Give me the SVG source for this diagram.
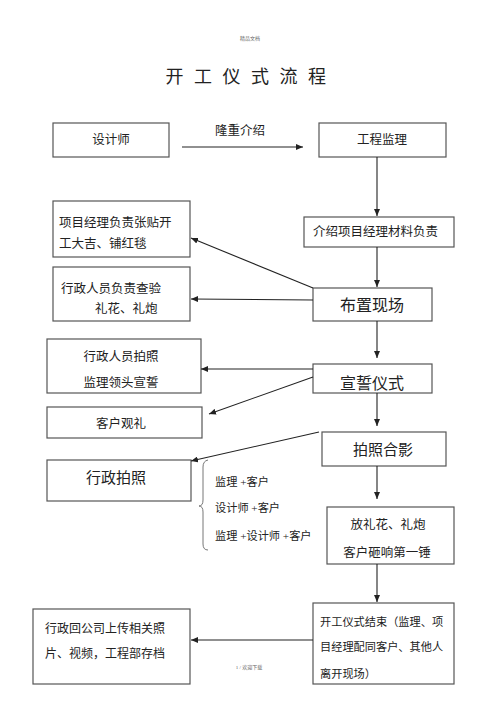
<svg xmlns="http://www.w3.org/2000/svg" width="500" height="708" viewBox="0 0 500 708">
<style>
.b{fill:#fff;stroke:#555;stroke-width:1.2}
.t{font-family:"Liberation Serif","Noto Sans CJK SC",serif;font-size:12.5px;fill:#222}
.L{font-size:16px}
.M{font-size:15px}
.S{font-size:11.2px}
.c{text-anchor:middle}
.e{stroke:#222;stroke-width:1.1;fill:none}
</style>
<defs>
<marker id="a" markerWidth="8" markerHeight="6" refX="7" refY="3" orient="auto" markerUnits="userSpaceOnUse">
<path d="M0,0 L7,3 L0,6 z" fill="#222"/>
</marker>
</defs>
<rect width="500" height="708" fill="#fff"/>
<text x="250" y="40" class="t c" style="font-size:5px;fill:#666">精品文档</text>
<text x="251" y="83" class="t c" style="font-size:18px;letter-spacing:10.5px">开工仪式流程</text>

<g id="n1"><rect class="b" x="53" y="123" width="116" height="34"/><text class="t c" x="111" y="144">设计师</text></g>
<g id="n2"><rect class="b" x="319" y="123" width="127" height="34"/><text class="t c" x="382" y="144">工程监理</text></g>
<g id="n3"><rect class="b" x="304" y="217" width="150" height="30"/><text class="t" x="313" y="236">介绍项目经理材料负责</text></g>
<g id="n4"><rect class="b" x="53" y="201" width="137" height="56"/><text class="t" x="59" y="227">项目经理负责张贴开</text><text class="t" x="59" y="248">工大吉、铺红毯</text></g>
<g id="n5"><rect class="b" x="53" y="267" width="137" height="54"/><text class="t" x="61" y="293">行政人员负责查验</text><text class="t" x="95" y="313">礼花、礼炮</text></g>
<g id="n6"><rect class="b" x="313" y="288" width="119" height="33"/><text class="t c L" x="372" y="311">布置现场</text></g>
<g id="n7"><rect class="b" x="47" y="339" width="154" height="54"/><text class="t c" x="121" y="361">行政人员拍照</text><text class="t c" x="121" y="387">监理领头宣誓</text></g>
<g id="n8"><rect class="b" x="313" y="364" width="119" height="29"/><text class="t c L" x="372" y="389">宣誓仪式</text></g>
<g id="n9"><rect class="b" x="47" y="407" width="155" height="31"/><text class="t c" x="121" y="428">客户观礼</text></g>
<g id="n10"><rect class="b" x="322" y="432" width="124" height="34"/><text class="t c M" x="383" y="455">拍照合影</text></g>
<g id="n11"><rect class="b" x="47" y="460" width="144" height="41"/><text class="t c M" x="116" y="483">行政拍照</text></g>
<g id="n12">
<path class="e" style="stroke:#666;stroke-width:0.9" d="M208,460 Q203,461 203,467 L203,500 Q203,506 199,506 Q203,506 203,512 L203,544 Q203,550 208,550"/>
<text class="t S" x="215" y="486">监理 +客户</text>
<text class="t S" x="215" y="512">设计师 +客户</text>
<text class="t S" x="215" y="540">监理 +设计师 +客户</text>
</g>
<g id="n13"><rect class="b" x="327" y="507" width="127" height="57"/><text class="t c" x="388" y="529">放礼花、礼炮</text><text class="t c" x="387" y="557">客户砸响第一锤</text></g>
<g id="n14"><rect class="b" x="313" y="603" width="141" height="81"/><text class="t S" x="320" y="626">开工仪式结束（监理、项</text><text class="t S" x="320" y="651">目经理配同客户、其他人</text><text class="t S" x="320" y="678">离开现场）</text></g>
<g id="n15"><rect class="b" x="33" y="609" width="157" height="75"/><text class="t" style="font-size:12px" x="45" y="633">行政回公司上传相关照</text><text class="t" style="font-size:12px" x="45" y="658">片、视频，工程部存档</text></g>
<text x="249" y="669" class="t c" style="font-size:5px;fill:#666">1 / 欢迎下载</text>

<g id="edges">
<line class="e" x1="182" y1="147" x2="303" y2="147" marker-end="url(#a)"/>
<text class="t c" x="240" y="135">隆重介绍</text>
<line class="e" x1="377" y1="157" x2="377" y2="216" marker-end="url(#a)"/>
<line class="e" x1="377" y1="247" x2="377" y2="287" marker-end="url(#a)"/>
<line class="e" x1="313" y1="288" x2="191" y2="238" marker-end="url(#a)"/>
<line class="e" x1="313" y1="300" x2="191" y2="299" marker-end="url(#a)"/>
<line class="e" x1="377" y1="321" x2="377" y2="358" marker-end="url(#a)"/>
<line class="e" x1="313" y1="369" x2="201" y2="369" marker-end="url(#a)"/>
<line class="e" x1="313" y1="377" x2="209" y2="414" marker-end="url(#a)"/>
<line class="e" x1="377" y1="393" x2="377" y2="426" marker-end="url(#a)"/>
<line class="e" x1="319" y1="432" x2="191" y2="461" marker-end="url(#a)"/>
<line class="e" x1="377" y1="466" x2="377" y2="499" marker-end="url(#a)"/>
<line class="e" x1="377" y1="564" x2="377" y2="602" marker-end="url(#a)"/>
<line class="e" x1="313" y1="640" x2="191" y2="640" marker-end="url(#a)"/>
</g>
</svg>
